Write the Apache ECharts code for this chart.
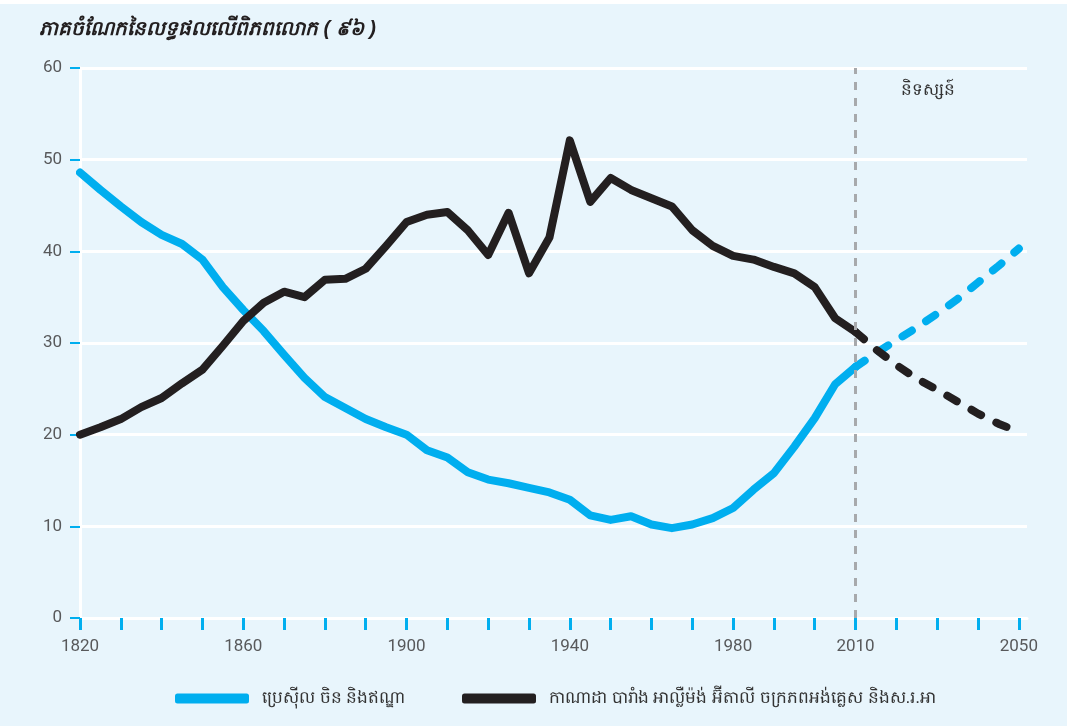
<!DOCTYPE html>
<html>
<head>
<meta charset="utf-8">
<script src="https://cdn.jsdelivr.net/npm/echarts@6/dist/echarts.min.js"></script>
<style>
  html, body { margin: 0; padding: 0; background: #e8f5fc; }
  #main { width: 1067px; height: 726px; }
</style>
</head>
<body>
<div id="main"></div>
<script>
// years, 5 yr steps
var years = [1820,1825,1830,1835,1840,1845,1850,1855,1860,1865,1870,1875,1880,1885,1890,1895,1900,
  1905,1910,1915,1920,1925,1930,1935,1940,1945,1950,1955,1960,1965,1970,1975,1980,1985,1990,1995,2000,2005,2010];
var projYears = [2010,2015,2020,2025,2030,2035,2040,2045,2050];

// ប្រេស៊ីល ចិន និងឥណ្ឌា
var emerging = [48.6,46.7,44.9,43.2,41.8,40.8,39.1,36.1,33.6,31.3,28.7,26.2,24.1,22.9,21.7,20.8,20.0,
  18.3,17.5,15.9,15.1,14.7,14.2,13.7,12.9,11.2,10.7,11.1,10.2,9.8,10.2,10.9,12.0,14.0,15.8,18.7,21.8,25.5,27.4];
var emergingProj = [27.4,28.9,30.3,31.7,33.2,34.8,36.6,38.4,40.3];

// G6
var g6 = [20.0,20.8,21.7,23.0,24.0,25.6,27.1,29.7,32.4,34.4,35.6,35.0,36.9,37.0,38.1,40.6,43.2,
  44.0,44.3,42.3,39.6,44.2,37.6,41.5,52.1,45.4,48.0,46.7,45.8,44.9,42.3,40.6,39.5,39.1,38.3,37.6,36.1,32.7,31.2];
var g6Proj = [31.2,29.3,27.6,26.1,24.9,23.6,22.3,21.2,20.3];

var tickYears = [];
for (var y = 1820; y <= 2050; y += 10) tickYears.push(y);
var labelYears = [1820,1860,1900,1940,1980,2010,2050];

var nameA = 'ប្រេស៊ីល ចិន និងឥណ្ឌា';
var nameB = 'កាណាដា បារាំង អាល្លឺម៉ង់ អ៊ីតាលី ចក្រភពអង់គ្លេស និងស.រ.អា';

function pairs(xs, vs) {
  var out = [];
  for (var i = 0; i < xs.length; i++) out.push([xs[i], vs[i]]);
  return out;
}

var blue = '#00aeef';
var black = '#231f20';
var numFont = "Roboto, sans-serif";

var myChart = echarts.init(document.getElementById('main'));
var option = {
  backgroundColor: '#e8f5fc',
  animation: false,
  title: {
    text: 'ភាគចំណែកនៃលទ្ធផលលើពិភពលោក ( ៩៦ )',
    left: 34,
    top: 14,
    textStyle: { fontSize: 20, fontWeight: 'bold', fontStyle: 'italic', color: '#231f20' }
  },
  legend: [{
    left: 170, top: 685,
    itemWidth: 74, itemHeight: 10, icon: 'roundRect',
    data: [{ name: nameA, itemStyle: { color: blue } }],
    textStyle: { fontSize: 17, color: '#333', padding: [0, 0, 0, 8] }
  }, {
    left: 457, top: 685,
    itemWidth: 74, itemHeight: 10, icon: 'roundRect',
    data: [{ name: nameB, itemStyle: { color: black } }],
    textStyle: { fontSize: 17, color: '#333', padding: [0, 0, 0, 8] }
  }],
  grid: { left: 80, right: 40, top: 68, bottom: 108 },
  xAxis: {
    type: 'value', min: 1820, max: 2052,
    axisLine: { show: true, lineStyle: { color: '#ffffff', width: 3 } },
    axisTick: { show: true, customValues: tickYears, length: 12, lineStyle: { color: blue, width: 3 } },
    axisLabel: {
      customValues: labelYears, margin: 20, color: '#58595b', fontSize: 17, fontFamily: numFont,
      formatter: function (v) { return String(v); }
    },
    splitLine: { show: false }
  },
  yAxis: {
    type: 'value', min: 0, max: 60, interval: 10,
    axisLine: { show: true, lineStyle: { color: '#ffffff', width: 3 } },
    axisTick: { show: true, length: 10, lineStyle: { color: blue, width: 2 } },
    axisLabel: { margin: 18, color: '#58595b', fontSize: 17, fontFamily: numFont },
    splitLine: { show: true, lineStyle: { color: '#ffffff', width: 3 } }
  },
  graphic: [{
    type: 'rect', left: 0, top: 0, shape: { width: 1067, height: 4 }, style: { fill: '#ffffff' }
  }, {
    type: 'text', left: 901, top: 82,
    style: { text: 'និទស្សន៍', fontSize: 17, fill: '#333' }
  }],
  series: [{
    name: nameA, type: 'line', data: pairs(years, emerging),
    showSymbol: false, lineStyle: { color: blue, width: 8, cap: 'round', join: 'round' },
    itemStyle: { color: blue },
    markLine: {
      silent: true, symbol: 'none', label: { show: false },
      lineStyle: { color: '#a7a9ac', type: [8, 8], width: 3 },
      data: [{ xAxis: 2010 }]
    }
  }, {
    name: nameB, type: 'line', data: pairs(years, g6),
    showSymbol: false, lineStyle: { color: black, width: 8, cap: 'round', join: 'round' },
    itemStyle: { color: black }
  }, {
    name: nameA, type: 'line', data: pairs(projYears, emergingProj),
    showSymbol: false, lineStyle: { color: blue, width: 8, cap: 'round', type: [11, 17] },
    itemStyle: { color: blue }
  }, {
    name: nameB, type: 'line', data: pairs(projYears, g6Proj),
    showSymbol: false, lineStyle: { color: black, width: 8, cap: 'round', type: [11, 17] },
    itemStyle: { color: black }
  }]
};
myChart.setOption(option);
</script>
</body>
</html>
